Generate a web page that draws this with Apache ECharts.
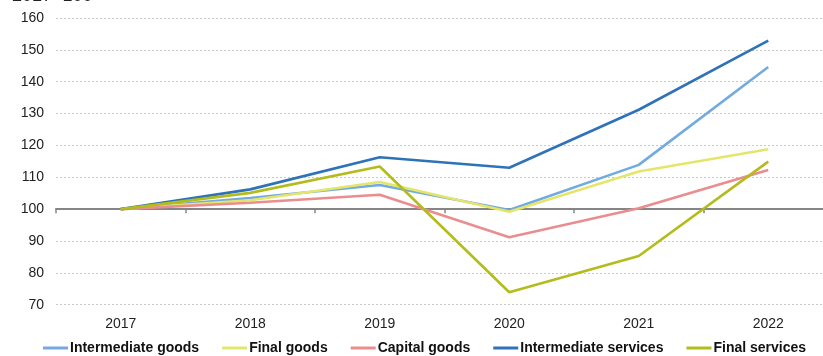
<!DOCTYPE html>
<html>
<head>
<meta charset="utf-8">
<script src="https://cdn.jsdelivr.net/npm/echarts@6/dist/echarts.min.js"></script>
<style>
  html, body { margin: 0; padding: 0; background: #fff; }
  #chart { width: 823px; height: 356px; }
</style>
</head>
<body>
<div id="chart"></div>
<script>
// Index values, 2017 = 100
const years = ['2017', '2018', '2019', '2020', '2021', '2022'];
const intermediateGoods = [100, 103.5, 107.6, 99.7, 113.9, 144.6];
const finalGoods = [100, 102.8, 108.5, 99.2, 111.8, 118.8];
const capitalGoods = [100, 102.0, 104.5, 91.2, 100.3, 112.3];
const intermediateServices = [100, 106.2, 116.3, 113.0, 131.2, 152.9];
const finalServices = [100, 105.1, 113.4, 73.9, 85.3, 114.9];
const yTicks = { min: 70, max: 160, interval: 10 };

const seriesDefs = [
  { name: 'Intermediate goods', data: intermediateGoods, color: '#72abe0' },
  { name: 'Final goods', data: finalGoods, color: '#e4e66c' },
  { name: 'Capital goods', data: capitalGoods, color: '#ea8d8f' },
  { name: 'Intermediate services', data: intermediateServices, color: '#2e73b8' },
  { name: 'Final services', data: finalServices, color: '#b4bc1c' }
];

const font = 'Liberation Sans, Arial, sans-serif';
const chart = echarts.init(document.getElementById('chart'), null, { renderer: 'canvas' });

// The plot area runs a little past the right edge of the canvas.
// The reference line at 100 lives in a second, overlaid grid whose bottom edge sits at 100.
const plotTop = 18, plotBottom = 51.3, plotLeft = 56, plotWidth = 777;
const plotHeight = 356 - plotTop - plotBottom;
const yAt100 = plotTop + plotHeight * (yTicks.max - 100) / (yTicks.max - yTicks.min);

chart.setOption({
  animation: false,
  backgroundColor: '#ffffff',
  graphic: [{
    type: 'text',
    left: 12,
    top: -13,
    style: { text: '2017=100', font: '18px ' + font, fill: '#222' }
  }],
  legend: {
    left: 38,
    top: 336,
    itemWidth: 25,
    itemHeight: 3,
    itemGap: 23,
    icon: 'rect',
    textStyle: { fontFamily: font, fontSize: 14, fontWeight: 'bold', color: '#111', padding: [0, 0, 0, -3] },
    data: seriesDefs.map(s => s.name)
  },
  grid: [
    { left: plotLeft, width: plotWidth, top: plotTop, bottom: plotBottom, containLabel: false, outerBoundsMode: 'none' },
    { left: plotLeft, width: plotWidth, top: plotTop, bottom: 356 - yAt100, containLabel: false, outerBoundsMode: 'none' }
  ],
  xAxis: [
    {
      type: 'category',
      gridIndex: 0,
      data: years,
      boundaryGap: true,
      axisLine: { show: false },
      axisTick: { show: false },
      axisLabel: { fontFamily: font, fontSize: 14, color: '#222', margin: 12 }
    },
    {
      type: 'category',
      gridIndex: 1,
      data: years,
      boundaryGap: true,
      axisLine: { show: true, lineStyle: { color: '#858585', width: 2 } },
      axisTick: { show: true, length: 4, lineStyle: { color: '#858585', width: 1.5 } },
      axisLabel: { show: false }
    }
  ],
  yAxis: [
    {
      type: 'value',
      gridIndex: 0,
      min: yTicks.min,
      max: yTicks.max,
      interval: yTicks.interval,
      axisLine: { show: false },
      axisTick: { show: false },
      axisLabel: { fontFamily: font, fontSize: 14, color: '#222', margin: 12 },
      splitLine: { lineStyle: { color: '#c8c8c8', type: [2, 2], width: 1 } }
    },
    {
      type: 'value',
      gridIndex: 1,
      min: 100,
      max: yTicks.max,
      show: false,
      splitLine: { show: false }
    }
  ],
  series: seriesDefs.map(s => ({
    name: s.name,
    type: 'line',
    xAxisIndex: 0,
    yAxisIndex: 0,
    data: s.data,
    symbol: 'none',
    color: s.color,
    lineStyle: { width: 2.6, color: s.color },
    z: 3
  }))
});
</script>
</body>
</html>
